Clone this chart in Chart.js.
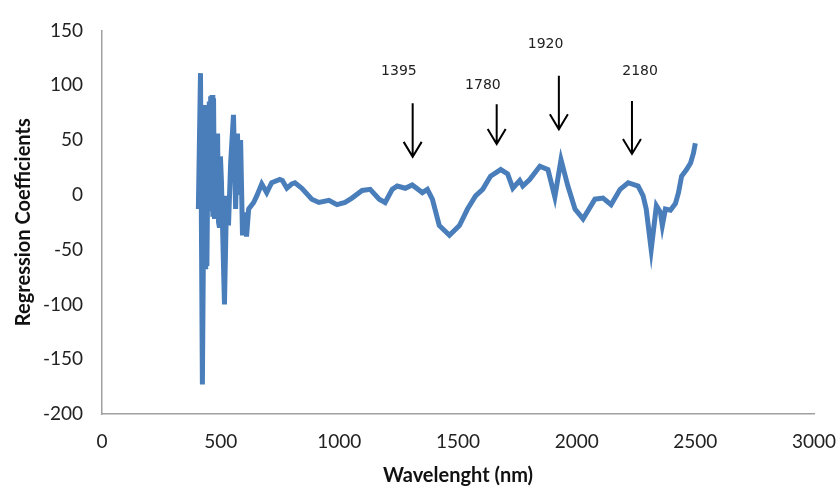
<!DOCTYPE html>
<html>
<head>
<meta charset="utf-8">
<script src="https://cdn.jsdelivr.net/npm/chart.js@4"></script>
<style>
  html, body { margin: 0; padding: 0; background: #fff; }
</style>
</head>
<body>
<canvas id="chart" width="839" height="490"></canvas>
<script>
// values
const wavelength = [406, 415, 423, 432, 434, 436, 438, 440, 442, 446, 449, 452, 455, 458, 461, 464, 467, 470,
  474, 479, 483, 487, 491, 495, 499, 503, 516, 525, 533, 542,
  554, 563, 571, 575, 584, 592, 601, 609, 618, 639, 652, 673, 694, 715, 749, 760, 779, 800, 813, 842,
  884, 914, 956, 990, 1024, 1053, 1096, 1130, 1168, 1193, 1223, 1244, 1278, 1307, 1350, 1371, 1392,
  1421, 1464, 1506, 1540, 1574, 1604, 1637, 1680, 1709, 1731, 1760, 1773, 1802, 1845, 1879, 1908,
  1934, 1963, 1993, 2027, 2077, 2111, 2145, 2183, 2217, 2259, 2280, 2293, 2314, 2336, 2353, 2361,
  2374, 2395, 2416, 2429, 2442, 2463, 2480, 2492, 2500];
const coefficient = [-13, 111, -173, 82, -60, 60, -68, 75, -65, 30, -10, 85, -15, 90, 20, 91, -20, 88,
  -22, 40, -15, 56, -25, -30, 35, 14, -100, -1, -28, 29,
  73, -13, 56, 0, 50, -37, -16, -38, -13, -7, -1, 10, 2, 11, 14, 13, 6, 10, 11, 6,
  -4, -7, -5, -9, -7, -3, 4, 5, -4, -7, 5, 8, 6, 9, 2, 5, -4,
  -28, -37, -28, -13, -1, 5, 17, 23, 19, 6, 13, 8, 14, 26, 23, -2,
  32, 8, -13, -22, -4, -3, -9, 5, 11, 8, -1, -13, -50, -10, -16, -28,
  -13, -14, -8, 2, 17, 23, 29, 38, 47];

const xTicks = [0, 500, 1000, 1500, 2000, 2500, 3000];
const yTicks = [-200, -150, -100, -50, 0, 50, 100, 150];

// arrow annotations: label, shaft x, shaft top, tip, label position (data units)
const arrowLabels = ['1395', '1780', '1920', '2180'];
const arrowX = [1309, 1663, 1925, 2233];
const arrowTop = [83.5, 82.6, 108.6, 85.5];
const arrowTip = [34.6, 46.4, 59.8, 37.3];
const labelX = [1251, 1605, 1869, 2267];
const labelY = [113, 99.7, 137.6, 113];

const points = wavelength.map((w, i) => ({ x: w, y: coefficient[i] }));

const arrowsPlugin = {
  id: 'arrows',
  afterDatasetsDraw(chart) {
    const c = chart.ctx;
    const xs = chart.scales.x, ys = chart.scales.y;
    c.save();
    c.strokeStyle = '#000';
    c.lineWidth = 2;
    c.fillStyle = '#222';
    c.font = '14px "DejaVu Sans"';
    c.textAlign = 'center';
    c.textBaseline = 'middle';
    arrowLabels.forEach((t, i) => {
      const x = xs.getPixelForValue(arrowX[i]);
      const y0 = ys.getPixelForValue(arrowTop[i]);
      const y1 = ys.getPixelForValue(arrowTip[i]);
      c.beginPath();
      c.moveTo(x, y0);
      c.lineTo(x, y1);
      c.moveTo(x - 9, y1 - 15);
      c.lineTo(x, y1);
      c.lineTo(x + 9, y1 - 15);
      c.stroke();
      c.fillText(t, xs.getPixelForValue(labelX[i]), ys.getPixelForValue(labelY[i]));
    });
    c.restore();
  }
};

new Chart(document.getElementById('chart'), {
  type: 'line',
  data: {
    datasets: [{
      data: points,
      borderColor: '#4A7EBB',
      borderWidth: 5,
      pointRadius: 0,
      tension: 0,
      fill: false
    }]
  },
  options: {
    responsive: false,
    animation: false,
    devicePixelRatio: 1,
    layout: { padding: { top: 20, right: 25, left: 0, bottom: 0 } },
    plugins: { legend: { display: false }, tooltip: { enabled: false } },
    scales: {
      x: {
        type: 'linear',
        min: 0, max: 3000,
        afterBuildTicks: s => { s.ticks = xTicks.map(v => ({ value: v })); },
        afterFit: s => { s.height = 76; s.paddingRight = 0; s.paddingLeft = 0; },
        grid: { display: false, drawTicks: false },
        border: { display: true, color: '#a0a0a0', width: 1.5 },
        ticks: { padding: 16, color: '#222', font: { family: 'Lato', size: 19 }, maxRotation: 0,
          callback: v => String(v) },
        title: { display: true, text: 'Wavelenght (nm)', color: '#111',
          font: { family: 'Lato', size: 20, weight: 'bold' }, padding: { top: 0, bottom: 2 } }
      },
      y: {
        min: -200, max: 150,
        afterBuildTicks: s => { s.ticks = yTicks.map(v => ({ value: v })); },
        afterFit: s => { s.width = 102; },
        grid: { display: false, drawTicks: false },
        border: { display: true, color: '#a0a0a0', width: 1.5 },
        ticks: { padding: 19, color: '#222', font: { family: 'Lato', size: 19 },
          callback: v => String(v) },
        title: { display: true, text: 'Regression Coefficients', color: '#111',
          font: { family: 'Lato', size: 20, weight: 'bold' }, padding: { top: 12, bottom: 0 } }
      }
    }
  },
  plugins: [arrowsPlugin]
});
</script>
</body>
</html>
